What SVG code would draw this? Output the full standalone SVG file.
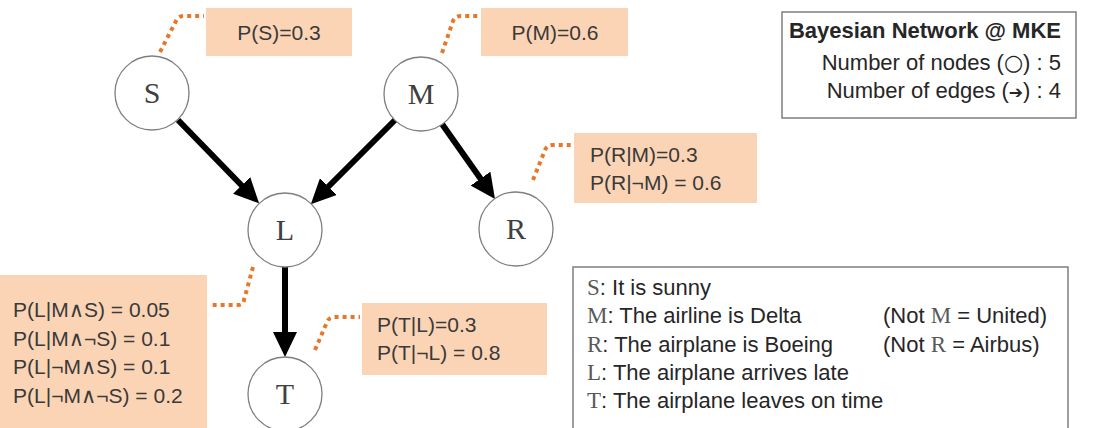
<svg xmlns="http://www.w3.org/2000/svg" width="1095" height="428" viewBox="0 0 1095 428">
<style>
.node circle{fill:#fff;stroke:#7f7f7f;stroke-width:1.3}
.node text{font-family:"Liberation Serif","DejaVu Serif",serif;font-size:30px;fill:#404040;text-anchor:middle}
.cpt rect{fill:#FAD4B4}
.cpt text{font-family:"Liberation Sans","DejaVu Sans",sans-serif;font-size:21px;fill:#3a3a3a}
.dots{fill:none;stroke:#E5782A;stroke-width:4;stroke-dasharray:4 4}
.edge{stroke:#000;stroke-width:6;fill:none}
.info{fill:#fff;stroke:#7f7f7f;stroke-width:1.5}
.sans{font-family:"Liberation Sans","DejaVu Sans",sans-serif;font-size:22px;fill:#262626}
.mono{font-family:"Liberation Serif","DejaVu Serif",serif;font-size:23px;fill:#595959}
</style>
<defs>
<marker id="ah" markerUnits="userSpaceOnUse" viewBox="0 0 25 24" markerWidth="25" markerHeight="24" refX="12" refY="12" orient="auto">
<path d="M0,0 L25,12 L0,24 z" fill="#000"/>
</marker>
</defs>

<g id="connectors">
<line class="edge" x1="178" y1="120" x2="250" y2="194" marker-end="url(#ah)"/>
<line class="edge" x1="395" y1="120" x2="320" y2="195" marker-end="url(#ah)"/>
<line class="edge" x1="442" y1="124" x2="487.5" y2="188.4" marker-end="url(#ah)"/>
<line class="edge" x1="285" y1="267" x2="285" y2="344" marker-end="url(#ah)"/>
</g>

<g id="callouts">
<path class="dots" d="M160,52 L176,21 Q178,16 184,16 L204,16"/>
<path class="dots" d="M442,53 L453,21 Q455,16 461,16 L480,16"/>
<path class="dots" d="M533,180 L545,150 Q547,145 553,145 L573,145"/>
<path class="dots" d="M253,267 L244,300 Q243,305 238,305 L210,305"/>
<path class="dots" d="M315,350 L327,322 Q329,317 335,317 L360,317"/>
</g>

<g id="node-S" class="node"><circle cx="152" cy="93" r="37"/><text x="152" y="103">S</text></g>
<g id="node-M" class="node"><circle cx="421" cy="94" r="37"/><text x="421" y="104">M</text></g>
<g id="node-L" class="node"><circle cx="285" cy="230" r="37"/><text x="285" y="240">L</text></g>
<g id="node-R" class="node"><circle cx="516" cy="229" r="37"/><text x="516" y="239">R</text></g>
<g id="node-T" class="node"><circle cx="285" cy="394" r="37"/><text x="285" y="404">T</text></g>

<g id="cpt-S" class="cpt"><rect x="206" y="8" width="146" height="48"/><text x="279" y="40" text-anchor="middle">P(S)=0.3</text></g>
<g id="cpt-M" class="cpt"><rect x="481" y="8" width="147" height="48"/><text x="555" y="40" text-anchor="middle">P(M)=0.6</text></g>
<g id="cpt-R" class="cpt"><rect x="574" y="133" width="183" height="70"/>
<text x="590" y="162">P(R|M)=0.3</text><text x="590" y="190">P(R|¬M) = 0.6</text></g>
<g id="cpt-L" class="cpt"><rect x="0" y="275" width="207" height="160"/>
<text x="13" y="317">P(L|M∧S) = 0.05</text>
<text x="13" y="346">P(L|M∧¬S) = 0.1</text>
<text x="13" y="374">P(L|¬M∧S) = 0.1</text>
<text x="13" y="403">P(L|¬M∧¬S) = 0.2</text></g>
<g id="cpt-T" class="cpt"><rect x="362" y="303" width="185" height="72"/>
<text x="377" y="332">P(T|L)=0.3</text><text x="377" y="360">P(T|¬L) = 0.8</text></g>

<g id="info">
<rect class="info" x="782" y="12" width="294" height="106"/>
<text class="sans" x="1061" y="38" text-anchor="end" font-weight="bold" font-size="21.3">Bayesian Network @ MKE</text>
<text class="sans" x="1061" y="70" text-anchor="end">Number of nodes (<tspan font-family="DejaVu Sans">○</tspan>) : 5</text>
<text class="sans" x="1061" y="98" text-anchor="end">Number of edges (<tspan font-family="DejaVu Sans" font-size="17">➔</tspan>) : 4</text>
</g>

<g id="legend">
<rect class="info" x="573" y="267" width="495" height="170"/>
<text x="587" y="295"><tspan class="mono">S</tspan><tspan class="sans">: It is sunny</tspan></text>
<text x="587" y="323"><tspan class="mono">M</tspan><tspan class="sans">: The airline is Delta</tspan></text>
<text x="883" y="323"><tspan class="sans">(Not </tspan><tspan class="mono">M</tspan><tspan class="sans"> = United)</tspan></text>
<text x="587" y="352"><tspan class="mono">R</tspan><tspan class="sans">: The airplane is Boeing</tspan></text>
<text x="883" y="352"><tspan class="sans">(Not </tspan><tspan class="mono">R</tspan><tspan class="sans"> = Airbus)</tspan></text>
<text x="587" y="380"><tspan class="mono">L</tspan><tspan class="sans">: The airplane arrives late</tspan></text>
<text x="587" y="408"><tspan class="mono">T</tspan><tspan class="sans">: The airplane leaves on time</tspan></text>
</g>
</svg>
